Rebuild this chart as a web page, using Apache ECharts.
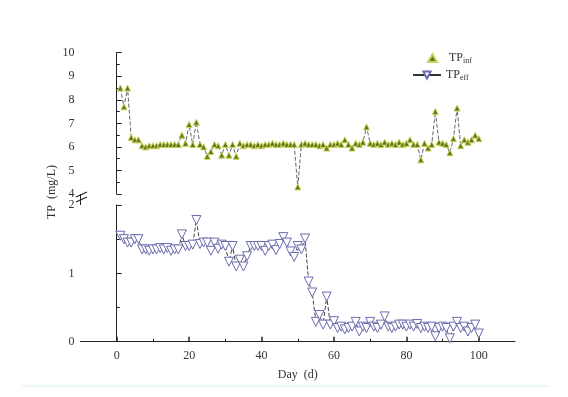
<!DOCTYPE html>
<html>
<head>
<meta charset="utf-8">
<script src="https://cdn.jsdelivr.net/npm/echarts@6/dist/echarts.min.js"></script>
<style>
  html, body { margin: 0; padding: 0; background: #fff; }
  #main { width: 568px; height: 397px; }
</style>
</head>
<body>
<div id="main"></div>
<script>
// 天数
var days = [];
for (var d = 1; d <= 100; d++) days.push(d);

// 进水 TP (mg/L)
var tpInf = [
  8.5, 7.7, 8.5, 6.4, 6.3, 6.3, 6.05, 6.0, 6.05, 6.05,
  6.05, 6.1, 6.1, 6.1, 6.1, 6.1, 6.1, 6.5, 6.15, 6.95,
  6.1, 7.05, 6.1, 6.0, 5.6, 5.8, 6.1, 6.05, 5.65, 6.1,
  5.65, 6.1, 5.6, 6.15, 6.05, 6.1, 6.1, 6.05, 6.1, 6.05,
  6.1, 6.1, 6.15, 6.1, 6.1, 6.15, 6.1, 6.1, 6.1, 4.3,
  6.1, 6.15, 6.1, 6.1, 6.1, 6.05, 6.1, 5.95, 6.1, 6.1,
  6.15, 6.1, 6.3, 6.1, 5.95, 6.15, 6.1, 6.2, 6.85, 6.15,
  6.1, 6.15, 6.1, 6.2, 6.1, 6.15, 6.1, 6.2, 6.1, 6.15,
  6.3, 6.1, 6.1, 5.45, 6.15, 5.95, 6.1, 7.5, 6.2, 6.15,
  6.1, 5.75, 6.35, 7.65, 6.05, 6.3, 6.2, 6.3, 6.5, 6.35
];

// 出水 TP (mg/L)
var tpEff = [
  1.55, 1.5, 1.45, 1.45, 1.5, 1.5, 1.35, 1.35, 1.33, 1.35,
  1.35, 1.37, 1.35, 1.37, 1.33, 1.35, 1.35, 1.57, 1.4, 1.4,
  1.42, 1.78, 1.43, 1.45, 1.45, 1.33, 1.45, 1.36, 1.42, 1.4,
  1.17, 1.4, 1.1, 1.2, 1.1, 1.25, 1.4, 1.4, 1.4, 1.4,
  1.33, 1.4, 1.42, 1.34, 1.43, 1.53, 1.45, 1.32, 1.24, 1.4,
  1.35, 1.51, 0.88, 0.72, 0.29, 0.39, 0.25, 0.66, 0.25, 0.3,
  0.2, 0.22, 0.18, 0.2, 0.22, 0.29, 0.15, 0.22, 0.2, 0.29,
  0.22, 0.2, 0.25, 0.37, 0.22, 0.2, 0.22, 0.25, 0.25, 0.22,
  0.25, 0.22, 0.26, 0.2, 0.22, 0.2, 0.22, 0.08, 0.2, 0.22,
  0.2, 0.05, 0.22, 0.29, 0.2, 0.22, 0.15, 0.2, 0.25, 0.12
];

// 刻度
var xTicks = [0, 20, 40, 60, 80, 100];
var xMinorTicks = [10, 30, 50, 70, 90];

var FONT = 'Liberation Serif';

function pairs(xs, ys) {
  var res = [];
  for (var i = 0; i < xs.length; i++) res.push([xs[i], ys[i]]);
  return res;
}

var myChart = echarts.init(document.getElementById('main'));

var yAxisBase = {
  axisLine: { show: true, lineStyle: { color: '#222', width: 1 } },
  axisTick: { show: true, inside: true, length: 5, lineStyle: { color: '#222' } },
  minorTick: { show: true, splitNumber: 2, length: 3, lineStyle: { color: '#222' } },
  splitLine: { show: false },
  axisLabel: { color: '#333', fontFamily: FONT, fontSize: 12, margin: 6 }
};

var legendRich = {
  a: { fontFamily: FONT, fontSize: 12, color: '#333' },
  s: { fontFamily: FONT, fontSize: 8, color: '#333', padding: [6, 0, 0, 0] }
};

myChart.setOption({
  backgroundColor: '#fff',
  animation: false,
  grid: [
    { left: 80.5, top: 52.7, width: 434.5, height: 141.3 },
    { left: 80.5, top: 205, width: 434.5, height: 136.7 }
  ],
  xAxis: [
    { gridIndex: 0, type: 'value', min: -10, max: 110, show: false },
    {
      gridIndex: 1, type: 'value', min: -10, max: 110, position: 'bottom',
      name: 'Day  (d)', nameLocation: 'middle', nameGap: 27,
      nameTextStyle: { fontFamily: FONT, fontSize: 12, color: '#333' },
      axisLine: { show: true, lineStyle: { color: '#222', width: 1 } },
      axisTick: { show: true, inside: true, length: 5, customValues: xTicks, lineStyle: { color: '#222', width: 1.5 } },
      axisLabel: { customValues: xTicks, color: '#333', fontFamily: FONT, fontSize: 12, margin: 8 },
      splitLine: { show: false }
    },
    {
      gridIndex: 1, type: 'value', min: -10, max: 110, position: 'bottom',
      axisLine: { show: false },
      axisTick: { show: true, inside: true, length: 3, customValues: xMinorTicks, lineStyle: { color: '#222' } },
      axisLabel: { show: false },
      splitLine: { show: false }
    }
  ],
  yAxis: [
    Object.assign({ gridIndex: 0, type: 'value', min: 4, max: 10, interval: 1 }, yAxisBase),
    Object.assign({ gridIndex: 1, type: 'value', min: 0, max: 2, interval: 1 }, yAxisBase)
  ],
  legend: [
    {
      left: 422, top: 47, itemWidth: 9, itemHeight: 8,
      data: [{ name: 'TP_inf', icon: 'triangle' }],
      formatter: function () { return '{a|TP}{s|inf}'; },
      textStyle: { padding: [0, 0, 0, 7], rich: legendRich }
    },
    {
      left: 407, top: 64, itemWidth: 28, itemHeight: 9,
      data: ['TP_eff'],
      lineStyle: { type: 'solid', color: '#333' },
      formatter: function () { return '{a|TP}{s|eff}'; },
      textStyle: { rich: legendRich }
    }
  ],
  graphic: [
    // 纵轴标题
    {
      type: 'text', x: 52, y: 192, rotation: Math.PI / 2,
      style: { text: 'TP  (mg/L)', fontFamily: FONT, fontSize: 12, fill: '#333', align: 'center', verticalAlign: 'middle' }
    },
    // 断轴符号
    { type: 'line', shape: { x1: 76, y1: 197, x2: 87, y2: 192 }, style: { stroke: '#222', lineWidth: 1.2 } },
    { type: 'line', shape: { x1: 76, y1: 202, x2: 87, y2: 197 }, style: { stroke: '#222', lineWidth: 1.2 } },
    { type: 'line', shape: { x1: 80.5, y1: 194, x2: 80.5, y2: 205 }, style: { stroke: '#222', lineWidth: 1 } },
    // 底部分隔线
    { type: 'line', shape: { x1: 22, y1: 386, x2: 550, y2: 386 }, style: { stroke: '#d6eef2', lineWidth: 1 } }
  ],
  series: [
    {
      name: 'TP_inf',
      type: 'line',
      xAxisIndex: 0,
      yAxisIndex: 0,
      data: pairs(days, tpInf),
      symbol: 'triangle',
      symbolSize: 6,
      itemStyle: { color: '#66741a', borderColor: '#c8d45e', borderWidth: 1 },
      lineStyle: { color: '#666', width: 1, type: 'dashed' }
    },
    {
      name: 'TP_eff',
      type: 'line',
      xAxisIndex: 1,
      yAxisIndex: 1,
      data: pairs(days, tpEff),
      symbol: 'triangle',
      symbolRotate: 180,
      symbolSize: 9,
      itemStyle: { color: '#fff', borderColor: '#6c6cae', borderWidth: 1 },
      lineStyle: { color: '#444', width: 1, type: 'dashed' }
    }
  ]
});
</script>
</body>
</html>
